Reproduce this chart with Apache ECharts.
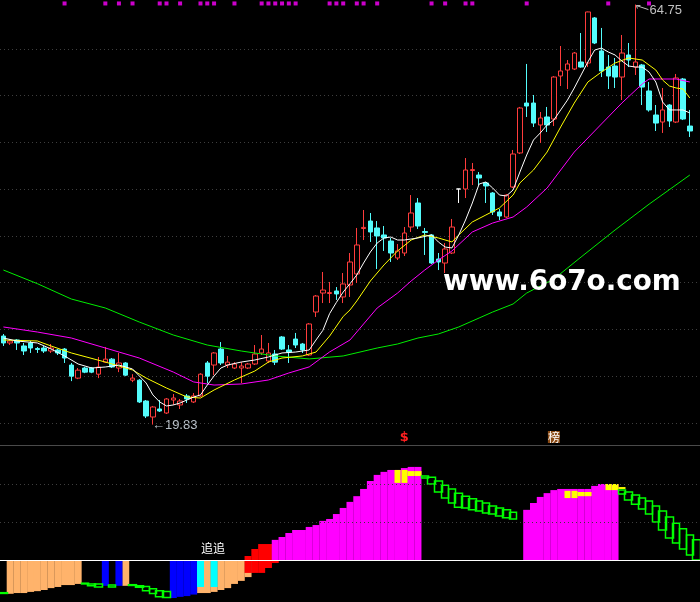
<!DOCTYPE html>
<html><head><meta charset="utf-8">
<script src="https://cdn.jsdelivr.net/npm/echarts/dist/echarts.min.js"></script>
<style>html,body{margin:0;padding:0;background:#000;}#c{width:700px;height:602px;}</style>
</head><body><div id="c"></div>
<script>
// ---------- data ----------
const categories = [];
for (let i = 1; i <= 103; i++) categories.push('D' + i);

// [open, close, low, high]
const candles = [
[29.30,28.56,28.24,29.52],[28.56,28.77,28.35,28.98],[28.88,28.56,27.81,28.98],[28.24,27.70,27.27,28.56],
[28.56,28.02,27.49,28.77],[27.97,27.86,27.49,28.13],[28.02,27.70,27.49,28.24],[27.70,28.02,27.49,28.45],
[27.81,27.49,27.27,27.92],[27.91,26.95,26.42,28.02],[26.20,25.01,24.48,26.42],[24.80,25.65,24.69,25.88],
[25.88,25.44,25.33,26.00],[25.88,25.44,25.33,25.99],[25.22,25.99,24.80,27.06],[26.51,26.83,26.42,28.13],
[26.83,25.99,25.88,26.95],[25.88,26.42,25.44,27.49],[26.42,25.12,25.01,26.51],[24.58,24.80,24.37,25.22],
[24.58,22.25,22.14,24.69],[22.35,20.75,20.53,22.46],[20.64,21.71,19.83,21.82],[21.50,21.28,21.18,22.46],
[21.07,22.57,20.96,22.67],[22.46,22.67,21.93,23.10],[21.93,22.35,21.50,22.57],[22.89,22.57,22.14,23.10],
[22.25,22.89,22.14,23.21],[22.89,25.22,22.78,25.33],[26.42,25.01,24.26,26.63],[26.20,27.49,25.12,27.59],
[27.91,26.42,26.20,28.66],[26.20,26.51,25.88,27.17],[25.88,26.31,25.77,26.51],[25.88,26.09,24.26,26.51],
[25.88,26.31,25.77,26.42],[26.31,27.38,26.20,28.34],[27.49,27.91,27.27,29.41],[26.63,27.49,26.42,28.56],
[27.38,26.51,26.20,27.81],[29.20,27.91,27.81,29.30],[27.81,27.59,26.42,28.34],[28.98,28.34,28.02,29.63],
[28.45,27.81,27.49,28.56],[27.27,30.59,27.17,30.69],[31.87,33.58,31.34,33.69],[33.90,34.22,32.83,36.15],
[33.85,33.95,32.83,35.08],[34.12,33.80,33.16,34.54],[33.48,34.87,32.83,36.04],[34.76,37.22,33.48,38.18],
[35.94,39.04,34.97,40.86],[40.80,40.92,39.57,42.78],[41.60,40.43,39.36,42.46],[40.86,40.00,36.47,41.60],
[40.11,39.79,38.40,41.07],[39.46,38.18,37.22,39.79],[37.65,38.40,37.43,39.14],[38.18,40.32,37.86,40.96],
[40.96,42.46,40.43,44.38],[43.53,41.07,40.75,44.06],[40.48,40.38,37.97,40.86],[40.11,37.11,37.00,40.21],
[37.54,37.22,36.36,38.18],[37.11,38.61,36.04,39.25],[38.18,40.96,38.07,41.82],[45.03,45.03,43.53,45.03],
[45.03,47.06,44.06,48.34],[47.00,47.10,45.45,47.81],[46.52,46.20,45.45,46.84],[45.67,45.35,43.53,45.78],
[44.60,42.57,42.25,44.70],[42.57,42.14,41.71,42.89],[42.03,44.38,41.93,44.49],[45.24,48.77,45.13,49.20],
[48.88,53.69,48.77,53.80],[54.22,53.90,52.73,58.40],[54.22,52.08,51.66,55.08],[51.87,52.62,49.95,53.26],
[52.73,51.87,51.12,53.80],[52.51,57.00,51.76,57.10],[57.11,57.65,56.04,60.32],[57.75,58.40,55.72,58.82],
[57.86,59.57,57.75,59.68],[58.61,58.07,58.00,61.71],[58.50,63.96,58.07,64.00],[63.32,60.64,60.53,63.42],
[59.79,57.65,57.00,62.25],[58.07,57.11,55.72,59.36],[58.18,57.00,55.83,59.04],[57.00,59.57,54.54,61.50],
[59.36,58.82,58.07,60.64],[58.07,58.61,57.22,64.75],[58.29,55.93,54.01,58.40],[55.51,53.48,53.30,56.47],
[52.94,52.08,51.23,54.01],[52.19,53.48,51.02,55.83],[54.01,52.30,51.66,54.10],[52.19,56.90,52.08,57.33],
[56.79,52.51,52.40,56.90],[51.76,51.23,50.59,53.48]
];

// moving-average lines: [dayIndex, price]
const maWhite = [[0,29.09],[2,28.77],[5,28.56],[7,27.92],[9,27.17],[11,26.31],[13,25.88],[15,25.99],[17,26.20],[19,25.78],[20,25.03],[21,24.28],[22,23.00],[23,22.25],[24,21.82],[25,21.93],[26,22.14],[27,22.46],[28,22.78],[29,23.00],[30,24.06],[31,25.03],[32,25.88],[33,26.20],[35,26.52],[37,26.74],[39,27.06],[41,27.49],[43,27.59],[45,27.81],[46,28.88],[47,29.90],[48,31.70],[49,32.90],[50,34.01],[51,34.90],[52,35.83],[53,37.11],[54,38.29],[55,39.25],[56,39.79],[57,39.89],[58,39.57],[59,39.57],[61,39.79],[63,40.11],[64,39.36],[65,38.82],[66,38.72],[67,40.11],[68,41.71],[69,43.53],[70,45.56],[71,45.78],[72,45.13],[73,44.38],[74,44.28],[75,44.92],[76,46.84],[77,48.66],[78,50.27],[79,51.02],[80,51.87],[81,52.41],[82,53.48],[83,54.54],[84,55.83],[85,57.22],[86,58.61],[87,59.89],[88,60.10],[89,59.68],[90,59.36],[91,58.72],[92,58.18],[93,58.07],[94,58.07],[95,57.54],[96,56.47],[97,54.33],[98,53.48],[99,53.48],[100,53.48],[101,53.16]];
const maYellow = [[0,28.88],[5,28.77],[7,28.24],[10,27.49],[15,26.52],[19,25.67],[21,24.81],[24,23.74],[27,22.78],[29,22.67],[31,23.53],[34,24.60],[37,25.56],[39,26.52],[41,26.95],[44,27.17],[46,27.59],[48,29.30],[50,31.40],[51,32.09],[52,33.05],[54,35.19],[56,36.90],[58,38.40],[60,39.57],[62,40.11],[64,39.79],[66,39.36],[67,40.11],[69,41.50],[71,42.25],[73,43.00],[75,44.38],[76,45.67],[78,47.06],[80,48.98],[82,51.66],[84,54.22],[86,56.47],[88,57.54],[90,58.50],[92,59.04],[94,58.82],[96,57.75],[97,56.68],[98,56.04],[99,55.83],[100,55.72],[101,54.76]];
const maMagenta = [[0,30.27],[5,29.73],[10,29.09],[15,28.02],[20,26.95],[25,25.45],[28,24.39],[31,24.06],[35,24.17],[39,24.60],[42,25.35],[45,26.00],[48,27.60],[51,28.88],[53,30.59],[55,32.30],[58,33.90],[60,35.19],[62,36.36],[64,37.43],[66,38.40],[69,40.43],[72,41.39],[75,42.03],[77,43.10],[80,45.13],[84,48.98],[88,51.98],[91,54.22],[94,56.26],[95,56.79],[99,56.79],[101,56.47]];
const maGreen = [[0,36.36],[5,34.90],[10,33.26],[15,32.30],[20,30.80],[25,29.41],[30,28.34],[35,27.70],[40,27.17],[45,26.85],[50,27.17],[55,28.02],[58,28.45],[61,29.09],[64,29.52],[67,30.27],[70,31.23],[72,31.87],[75,32.73],[77,33.90],[79,34.65],[81,35.40],[85,37.75],[90,40.64],[95,43.40],[101,46.52]];

// top-row signal days
const signalDays = [9,15,17,19,23,24,26,29,30,31,34,38,39,40,41,42,43,48,49,50,52,53,55,63,65,68,69,77,89,95];

// lower indicator: [dayIndex, value]
const orangeBars = [[1,-8.9],[2,-8.7],[3,-8.7],[4,-8.4],[5,-8.2],[6,-7.9],[7,-7.4],[8,-7.1],[9,-6.6],[10,-6.6],[11,-6.3],[18,-6.8],[29,-8.7],[30,-8.7],[31,-8.4],[32,-7.9],[33,-7.4],[34,-6.3],[35,-5.5],[36,-4.5]];
const blueBars = [[15,-6.8],[17,-6.8],[25,-10.0],[26,-9.7],[27,-9.5],[28,-9.1]];
const cyanBars = [[29,-7.1],[31,-7.1]];
const redBarsLow = [[36,-3.4],[37,-3.4],[38,-3.4],[39,-2.1],[40,-0.8]];
const redBarsHigh = [[36,1.05],[37,2.9],[38,4.2],[39,4.2]];
const magentaBars = [[40,5.3],[41,6.05],[42,7.1],[43,7.9],[44,7.9],[45,8.7],[46,9.2],[47,10.3],[48,10.8],[49,12.1],[50,13.7],[51,15.3],[52,16.8],[53,18.7],[54,20.8],[55,22.4],[56,23.2],[57,23.7],[58,23.7],[59,24.2],[60,24.5],[61,24.5],
  [77,13.2],[78,15.0],[79,16.6],[80,17.6],[81,18.4],[82,18.7],[83,18.7],[84,18.7],[85,18.7],[86,18.7],[87,19.5],[88,20.0],[89,20.0],[90,20.0]];
// boxes: [dayIndex, from, to]
const yellowBoxes = [[58,23.7,20.3],[59,23.7,20.3],[60,23.4,22.1],[61,23.4,22.1],[83,18.2,16.3],[84,18.2,16.3],[85,17.9,16.8],[86,17.9,16.8],[89,20.0,18.4],[90,20.0,18.4],[91,19.2,18.7]];
const greenBoxes = [[0,-8.6,-8.8],[12,-6.1,-6.3],[13,-6.3,-6.8],[14,-6.3,-7.1],[16,-6.6,-7.1],[19,-6.5,-6.7],[20,-6.8,-7.2],[21,-7.0,-8.1],[22,-7.55,-8.8],[23,-8.1,-9.7],[24,-8.3,-9.9],
  [62,22.1,21.6],[63,21.8,20.0],[64,20.8,17.9],[65,19.7,16.3],[66,18.7,15.0],[67,17.6,13.9],[68,16.8,13.7],[69,16.1,13.2],[70,15.5,12.9],[71,15.0,12.4],[72,14.2,12.1],[73,13.7,11.6],[74,13.2,11.1],[75,12.6,10.8],
  [91,18.4,17.4],[92,17.9,15.8],[93,17.1,14.7],[94,16.3,13.4],[95,15.5,12.1],[96,14.2,10.0],[97,12.9,7.9],[98,11.3,5.8],[99,9.7,4.5],[100,8.2,2.9],[101,6.6,1.3],[102,5.3,0]];

const priceGridLevels = [20,25,30,35,40,45,50,55,60];
const oscGridLevels = [10,20];
const PRICE_MIN = 17.647, PRICE_MAX = 65.24;
const OSC_MIN = -10.53, OSC_MAX = 30.27;
const SIGNAL_LEVEL = 64.87;
const highIdx = 93, highVal = 64.75, lowIdx = 22, lowVal = 19.83;

// ---------- build ----------
const N = categories.length;
const pad = arr => { const a = new Array(N).fill('-'); arr.forEach(([i, v]) => { a[i] = v; }); return a; };
const boxes = arr => { const a = new Array(N).fill('-'); arr.forEach(([i, p, q]) => { a[i] = [p, q, Math.min(p, q), Math.max(p, q)]; }); return a; };
const kData = candles.slice(); while (kData.length < N) kData.push('-');

const chart = echarts.init(document.getElementById('c'));
const hiddenX = (g, show) => ({
  type: 'category', data: categories, gridIndex: g, boundaryGap: true,
  axisLine: { show: show, lineStyle: { color: '#4a4a4a', width: 1 } },
  axisTick: { show: false }, axisLabel: { show: false }, splitLine: { show: false }
});
const barBase = (name, data, color) => ({
  name, type: 'bar', xAxisIndex: 1, yAxisIndex: 1, data: pad(data),
  barWidth: 7, barGap: '-100%', itemStyle: { color: color }, silent: true
});
const lineS = (name, data, color) => ({
  name, type: 'line', xAxisIndex: 0, yAxisIndex: 0, data: data, symbol: 'none',
  lineStyle: { color: color, width: 1 }, silent: true, z: 3
});

chart.setOption({
  backgroundColor: '#000',
  animation: false,
  grid: [
    { left: -2.24, top: 0, width: 707.8, height: 445 },
    { left: -1.0, top: 445, width: 707.8, height: 155 }
  ],
  xAxis: [hiddenX(0, true), hiddenX(1, true)],
  yAxis: [
    { type: 'value', gridIndex: 0, min: PRICE_MIN, max: PRICE_MAX, show: false, splitLine: { show: false } },
    { type: 'value', gridIndex: 1, min: OSC_MIN, max: OSC_MAX, show: false, splitLine: { show: false } }
  ],
  series: [
    {
      name: 'K', type: 'candlestick', xAxisIndex: 0, yAxisIndex: 0, data: kData, barWidth: 5,
      itemStyle: { color: '#000', color0: '#54fcfc', borderColor: '#ff3c3c', borderColor0: '#54fcfc', borderColorDoji: '#ffffff', borderWidth: 1 },
      markLine: {
        silent: true, symbol: 'none', z: 1, label: { show: false },
        lineStyle: { color: '#3e3e3e', type: [1, 3], width: 1 },
        data: priceGridLevels.map(v => ({ yAxis: v }))
      }
    },
    lineS('MA60', maGreen, '#00ee00'),
    lineS('MA30', maMagenta, '#ff00ff'),
    lineS('MA10', maYellow, '#ffff00'),
    lineS('MA5', maWhite, '#ffffff'),
    {
      name: 'signal', type: 'scatter', xAxisIndex: 0, yAxisIndex: 0, symbol: 'rect', symbolSize: 4,
      itemStyle: { color: '#ff00ff' }, data: signalDays.map(i => [i, SIGNAL_LEVEL]), silent: true
    },
    barBase('orange', orangeBars, '#ffb36b'),
    barBase('blue', blueBars, '#0000ff'),
    barBase('cyan', cyanBars, '#00ffff'),
    barBase('redLow', redBarsLow, '#ff0000'),
    barBase('redHigh', redBarsHigh, '#ff0000'),
    barBase('magenta', magentaBars, '#ff00ff'),
    {
      name: 'yellowBox', type: 'candlestick', xAxisIndex: 1, yAxisIndex: 1, data: boxes(yellowBoxes), barWidth: 7,
      itemStyle: { color: '#ffff00', color0: '#ffff00', borderColor: '#ffff00', borderColor0: '#ffff00', borderColorDoji: '#ffff00', borderWidth: 0 },
      silent: true
    },
    {
      name: 'greenBox', type: 'candlestick', xAxisIndex: 1, yAxisIndex: 1, data: boxes(greenBoxes), barWidth: 8,
      itemStyle: { color: 'rgba(0,0,0,0)', color0: 'rgba(0,0,0,0)', borderColor: '#00ff00', borderColor0: '#00ff00', borderColorDoji: '#00ff00', borderWidth: 1.5 },
      silent: true,
      markLine: {
        silent: true, symbol: 'none', label: { show: false },
        data: [
          { yAxis: 0, lineStyle: { color: '#ffffff', type: 'solid', width: 1 } },
          ...oscGridLevels.map(v => ({ yAxis: v, lineStyle: { color: '#3e3e3e', type: [1, 3], width: 1 } }))
        ]
      }
    }
  ]
});

// ---------- annotations ----------
const hp = chart.convertToPixel({ gridIndex: 0 }, [highIdx, highVal]);
const lp = chart.convertToPixel({ gridIndex: 0 }, [lowIdx, lowVal]);
const xOf = i => chart.convertToPixel({ gridIndex: 0 }, [i, 30])[0];
const lblFont = '13px "Liberation Sans", Arial, sans-serif';
chart.setOption({
  graphic: [
    { type: 'line', shape: { x1: hp[0] + 1, y1: hp[1] + 1, x2: hp[0] + 13, y2: hp[1] + 5 }, style: { stroke: '#c0c0c0', lineWidth: 1 }, silent: true },
    { type: 'polyline', shape: { points: [[hp[0] + 5, hp[1] + 1], [hp[0] + 1, hp[1] + 1], [hp[0] + 2, hp[1] + 4]] }, style: { stroke: '#c0c0c0', lineWidth: 1, fill: null }, silent: true },
    { type: 'text', x: hp[0] + 14, y: hp[1] + 6, style: { text: highVal.toFixed(2), fill: '#c0c0c0', font: lblFont, verticalAlign: 'middle', align: 'left' }, silent: true },
    { type: 'text', x: lp[0] - 1, y: lp[1] + 1, style: { text: '\u2190' + lowVal.toFixed(2), fill: '#b8c0c8', font: lblFont, verticalAlign: 'middle', align: 'left' }, silent: true },
    { type: 'text', x: xOf(59), y: 438, style: { text: '$', fill: '#ff2020', font: 'bold 13px "DejaVu Sans", sans-serif', verticalAlign: 'middle', align: 'center' }, silent: true },
    { type: 'text', x: xOf(81), y: 437, style: { text: '榜', fill: '#ffffff', font: '12px "Noto Sans CJK SC", sans-serif', verticalAlign: 'middle', align: 'center', backgroundColor: '#8a4a14', padding: [0, 0] }, silent: true },
    { type: 'text', x: xOf(31) - 1, y: 548, style: { text: '追追', fill: '#ffffff', font: '12px "Noto Sans CJK SC", sans-serif', verticalAlign: 'middle', align: 'center' }, silent: true },
    { type: 'text', x: 443, y: 283, style: { text: 'www.6o7o.com', fill: '#ffffff', font: 'bold 27.8px "DejaVu Sans", sans-serif', verticalAlign: 'middle', align: 'left' }, silent: true, z: 100 }
  ]
});
</script></body></html>
